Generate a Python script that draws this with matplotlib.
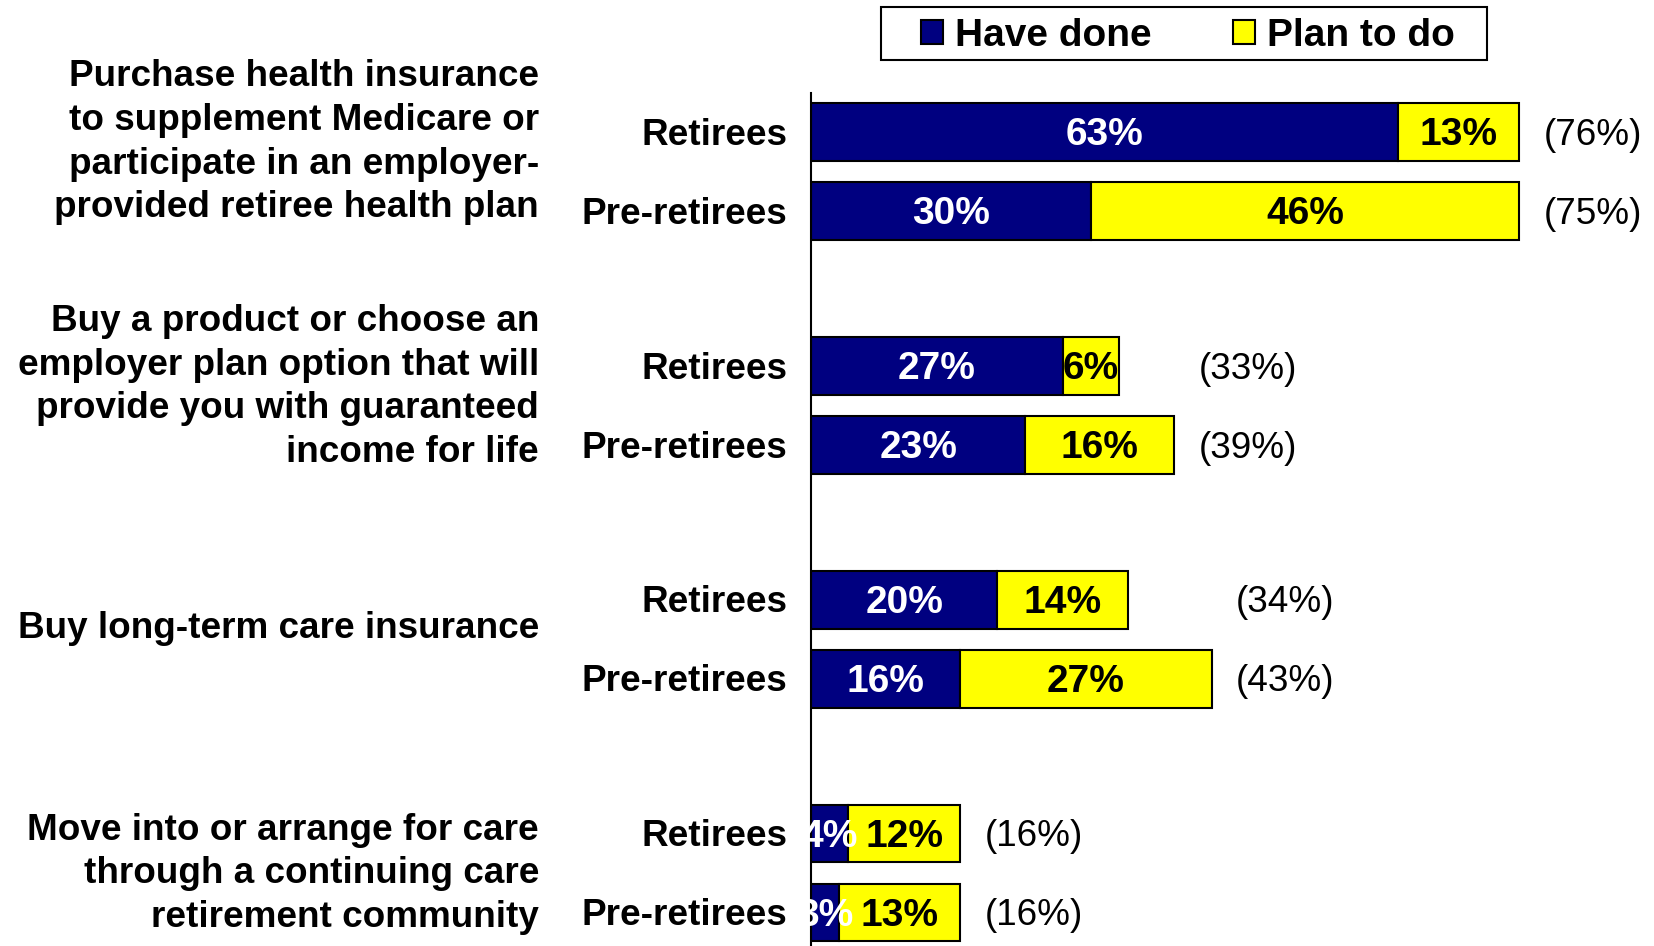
import matplotlib
matplotlib.use("Agg")
import matplotlib.pyplot as plt
from matplotlib.patches import Patch, Rectangle
import matplotlib.transforms as mtransforms

plt.rcParams['font.family'] = ['Liberation Sans', 'DejaVu Sans']

group_labels = [
    "Purchase health insurance\nto supplement Medicare or\nparticipate in an employer-\nprovided retiree health plan",
    "Buy a product or choose an\nemployer plan option that will\nprovide you with guaranteed\nincome for life",
    "Buy long-term care insurance",
    "Move into or arrange for care\nthrough a continuing care\nretirement community",
]
row_labels = ["Retirees", "Pre-retirees"]
have_done = [63, 30, 27, 23, 20, 16, 4, 3]
plan_to_do = [13, 46, 6, 16, 14, 27, 12, 13]
totals = [76, 75, 33, 39, 34, 43, 16, 16]
series_names = ["Have done", "Plan to do"]

NAVY = "#000080"
YELLOW = "#FFFF00"

fig = plt.figure(figsize=(16.54, 9.46), dpi=100)
ax = fig.add_axes([811 / 1654, 0.0, 1 - 811 / 1654, 1 - 93 / 946])

pitch = 2.96
ypos = []
for g in range(len(group_labels)):
    ypos += [g * pitch, g * pitch + 1]

h = 0.73
ax.barh(ypos, have_done, height=h, color=NAVY, edgecolor="black", linewidth=1.5)
ax.barh(ypos, plan_to_do, left=have_done, height=h, color=YELLOW, edgecolor="black", linewidth=1.5)

ax.set_xlim(0, (1654 - 811) / 9.32)
ax.set_ylim((946 - 132) / 79, (93 - 132) / 79)

for s in ["top", "right", "bottom"]:
    ax.spines[s].set_visible(False)
ax.spines["left"].set_linewidth(1.5)
ax.set_xticks([])
ax.set_yticks([])

fs = 26.6
vfs = 28
dy = 0.04  # small downward nudge so text sits like the reference
for y, a, b in zip(ypos, have_done, plan_to_do):
    ax.text(a / 2, y + dy, f"{a}%", ha="center", va="center", color="white",
            fontsize=vfs, fontweight="bold")
    ax.text(a + b / 2, y + dy, f"{b}%", ha="center", va="center", color="black",
            fontsize=vfs, fontweight="bold")

# totals, placed after the longest bar in each group
for g in range(len(group_labels)):
    i0, i1 = 2 * g, 2 * g + 1
    xg = max(have_done[i0] + plan_to_do[i0], have_done[i1] + plan_to_do[i1]) + 2.6
    for i in (i0, i1):
        ax.text(xg, ypos[i] + dy, f"({totals[i]}%)", ha="left", va="center",
                fontsize=fs, color="black")

blend = mtransforms.blended_transform_factory(fig.transFigure, ax.transData)
for i, y in enumerate(ypos):
    fig.text(787 / 1654, y + dy, row_labels[i % 2], transform=blend, ha="right",
             va="center", fontsize=fs, fontweight="bold")

label_shift = [-0.41, -0.27, -0.17, -0.03]
for g, lab in enumerate(group_labels):
    yc = g * pitch + 0.5 + label_shift[g] + dy
    fig.text(539 / 1654, yc, lab, transform=blend, ha="right", va="center",
             fontsize=fs, fontweight="bold", linespacing=1.32)

# legend box
fig.add_artist(Rectangle((881 / 1654, 1 - 60 / 946), (1487 - 881) / 1654, 53 / 946,
                         transform=fig.transFigure, facecolor="white",
                         edgecolor="black", linewidth=1.5))
handles = [Patch(facecolor=NAVY, edgecolor="black", linewidth=1.5),
           Patch(facecolor=YELLOW, edgecolor="black", linewidth=1.5)]
leg = fig.legend(handles, series_names, loc="center",
                 bbox_to_anchor=((881 + 1487) / 2 / 1654 + 4 / 1654, 1 - 36 / 946),
                 ncol=2, frameon=False,
                 prop={"size": 28, "weight": "bold"}, handlelength=0.57,
                 handleheight=0.57, handletextpad=0.3, columnspacing=2.1,
                 borderpad=0.0, borderaxespad=0)

fig.savefig("out.png", dpi=100)
